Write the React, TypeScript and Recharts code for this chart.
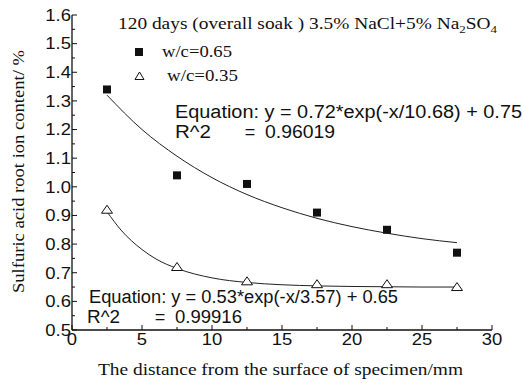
import { ComposedChart, Line, Scatter, XAxis, YAxis } from 'recharts';

// measured distances (mm) and sulfate contents (%)
const depths = [2.5, 7.5, 12.5, 17.5, 22.5, 27.5];
const wc065 = [1.34, 1.04, 1.01, 0.91, 0.85, 0.77];
const wc035 = [0.92, 0.72, 0.67, 0.66, 0.66, 0.65];

// fitted curves
const fitX65 = [2.5, 5, 7.5, 10, 12.5, 15, 17.5, 20, 22.5, 25, 27.5];
const fitY65 = [1.32, 1.2, 1.107, 1.032, 0.973, 0.927, 0.89, 0.861, 0.838, 0.819, 0.805];
const fitX35 = [2.5, 3.5, 5, 6, 7.5, 10, 12.5, 15, 17.5, 20, 22.5, 25, 27.5];
const fitY35 = [0.913, 0.849, 0.781, 0.748, 0.715, 0.682, 0.666, 0.658, 0.654, 0.652, 0.651, 0.65, 0.65];

const xTicks = [0, 2.5, 5, 7.5, 10, 12.5, 15, 17.5, 20, 22.5, 25, 27.5, 30];
const yTicks = [0.5, 0.55, 0.6, 0.65, 0.7, 0.75, 0.8, 0.85, 0.9, 0.95, 1.0, 1.05, 1.1, 1.15, 1.2, 1.25, 1.3, 1.35, 1.4, 1.45, 1.5, 1.55, 1.6];

const pts65 = depths.map((x, i) => ({ x, y: wc065[i] }));
const pts35 = depths.map((x, i) => ({ x, y: wc035[i] }));
const curve65 = fitX65.map((x, i) => ({ x, y: fitY65[i] }));
const curve35 = fitX35.map((x, i) => ({ x, y: fitY35[i] }));

const sans = '"Liberation Sans", Arial, sans-serif';
const serif = '"Liberation Serif", "Times New Roman", serif';
const ink = '#111';
// the original picture is a little stretched sideways
const stretch = 1.12;

const Square = ({ cx, cy }: any) => <rect x={cx - 4} y={cy - 4} width={8} height={8} fill={ink} />;
const Triangle = ({ cx, cy }: any) => (
  <path d={`M${cx},${cy - 4.5} L${cx + 5.5},${cy + 3.5} L${cx - 5.5},${cy + 3.5} Z`} fill="#fff" stroke={ink} strokeWidth={1} />
);

const XTick = ({ x, y, payload }: any) => {
  const major = payload.value % 5 === 0;
  return (
    <g>
      <line x1={x} x2={x} y1={y} y2={y - (major ? 5 : 3)} stroke={ink} strokeWidth={1} />
      {major && (
        <g transform={`translate(${x},${y + 15}) scale(${stretch},1)`}>
          <text x={0} y={0} textAnchor="middle" fontFamily={sans} fontSize={16.5} fill={ink}>
            {payload.value}
          </text>
        </g>
      )}
    </g>
  );
};

const YTick = ({ x, y, payload }: any) => {
  const major = Math.round(payload.value * 100) % 10 === 0;
  return (
    <g>
      <line x1={x} x2={x + (major ? 5 : 3)} y1={y} y2={y} stroke={ink} strokeWidth={1} />
      {major && (
        <g transform={`translate(${x - 1},${y}) scale(${stretch},1)`}>
          <text x={0} y={0} dy="0.35em" textAnchor="end" fontFamily={sans} fontSize={16.5} fill={ink}>
            {payload.value.toFixed(1)}
          </text>
        </g>
      )}
    </g>
  );
};

export default function App() {
  return (
    <div style={{ position: 'absolute', left: 0, top: 0, width: 524, height: 383, background: '#fff' }}>
      <ComposedChart width={524} height={383} margin={{ top: 15, right: 32, bottom: 23, left: 12 }}>
        <XAxis
          type="number"
          dataKey="x"
          domain={[0, 30]}
          ticks={xTicks}
          interval={0}
          height={30}
          tickSize={0}
          tickMargin={0}
          tick={<XTick />}
          axisLine={{ stroke: ink, strokeWidth: 1.3 }}
          allowDecimals
        />
        <YAxis
          type="number"
          dataKey="y"
          domain={[0.5, 1.6]}
          ticks={yTicks}
          interval={0}
          width={60}
          tickSize={0}
          tickMargin={0}
          tick={<YTick />}
          axisLine={{ stroke: ink, strokeWidth: 1.3 }}
        />
        <Line data={curve65} dataKey="y" type="monotone" stroke="#222" strokeWidth={1} dot={false} isAnimationActive={false} />
        <Line data={curve35} dataKey="y" type="monotone" stroke="#222" strokeWidth={1} dot={false} isAnimationActive={false} />
        <Scatter data={pts65} name="w/c=0.65" shape={<Square />} isAnimationActive={false} />
        <Scatter data={pts35} name="w/c=0.35" shape={<Triangle />} isAnimationActive={false} />
      </ComposedChart>
      <svg width={524} height={383} style={{ position: 'absolute', left: 0, top: 0, pointerEvents: 'none' }}>
        <text x={118} y={29} fontFamily={serif} fontSize={16.5} fill={ink} textLength={379} lengthAdjust="spacingAndGlyphs">
          120 days (overall soak ) 3.5% NaCl+5% Na<tspan fontSize={11} dy={4}>2</tspan>
          <tspan dy={-4}>SO</tspan><tspan fontSize={11} dy={4}>4</tspan>
        </text>
        <rect x={135} y={48} width={8} height={8} fill={ink} />
        <text x={162} y={57} fontFamily={serif} fontSize={16.5} fill={ink} textLength={70} lengthAdjust="spacingAndGlyphs">w/c=0.65</text>
        <path d="M139.5,72 L144,79.5 L135,79.5 Z" fill="#fff" stroke={ink} strokeWidth={1} />
        <text x={167} y={81} fontFamily={serif} fontSize={16.5} fill={ink} textLength={71} lengthAdjust="spacingAndGlyphs">w/c=0.35</text>

        <text x={175} y={118} fontFamily={sans} fontSize={18} fill={ink} textLength={347} lengthAdjust="spacingAndGlyphs">Equation: y = 0.72*exp(-x/10.68) + 0.75</text>
        <text x={175} y={138} fontFamily={sans} fontSize={18} fill={ink} textLength={36} lengthAdjust="spacingAndGlyphs">R^2</text>
        <text x={250} y={138} fontFamily={sans} fontSize={18} fill={ink} textAnchor="middle">=</text>
        <text x={265} y={138} fontFamily={sans} fontSize={18} fill={ink} textLength={70} lengthAdjust="spacingAndGlyphs">0.96019</text>

        <text x={89} y={303} fontFamily={sans} fontSize={18} fill={ink} textLength={309} lengthAdjust="spacingAndGlyphs">Equation: y = 0.53*exp(-x/3.57) + 0.65</text>
        <text x={87} y={323} fontFamily={sans} fontSize={18} fill={ink} textLength={33} lengthAdjust="spacingAndGlyphs">R^2</text>
        <text x={160} y={323} fontFamily={sans} fontSize={18} fill={ink} textAnchor="middle">=</text>
        <text x={175} y={323} fontFamily={sans} fontSize={18} fill={ink} textLength={67} lengthAdjust="spacingAndGlyphs">0.99916</text>

        <text x={98} y={375} fontFamily={serif} fontSize={17} fill={ink} textLength={365} lengthAdjust="spacingAndGlyphs">
          The distance from the surface of specimen/mm
        </text>
        <text x={24} y={171.5} fontFamily={serif} fontSize={17} fill={ink} textAnchor="middle" textLength={243} lengthAdjust="spacingAndGlyphs" transform="rotate(-90 24 171.5)">
          Sulfuric acid root ion content/ %
        </text>
      </svg>
    </div>
  );
}
